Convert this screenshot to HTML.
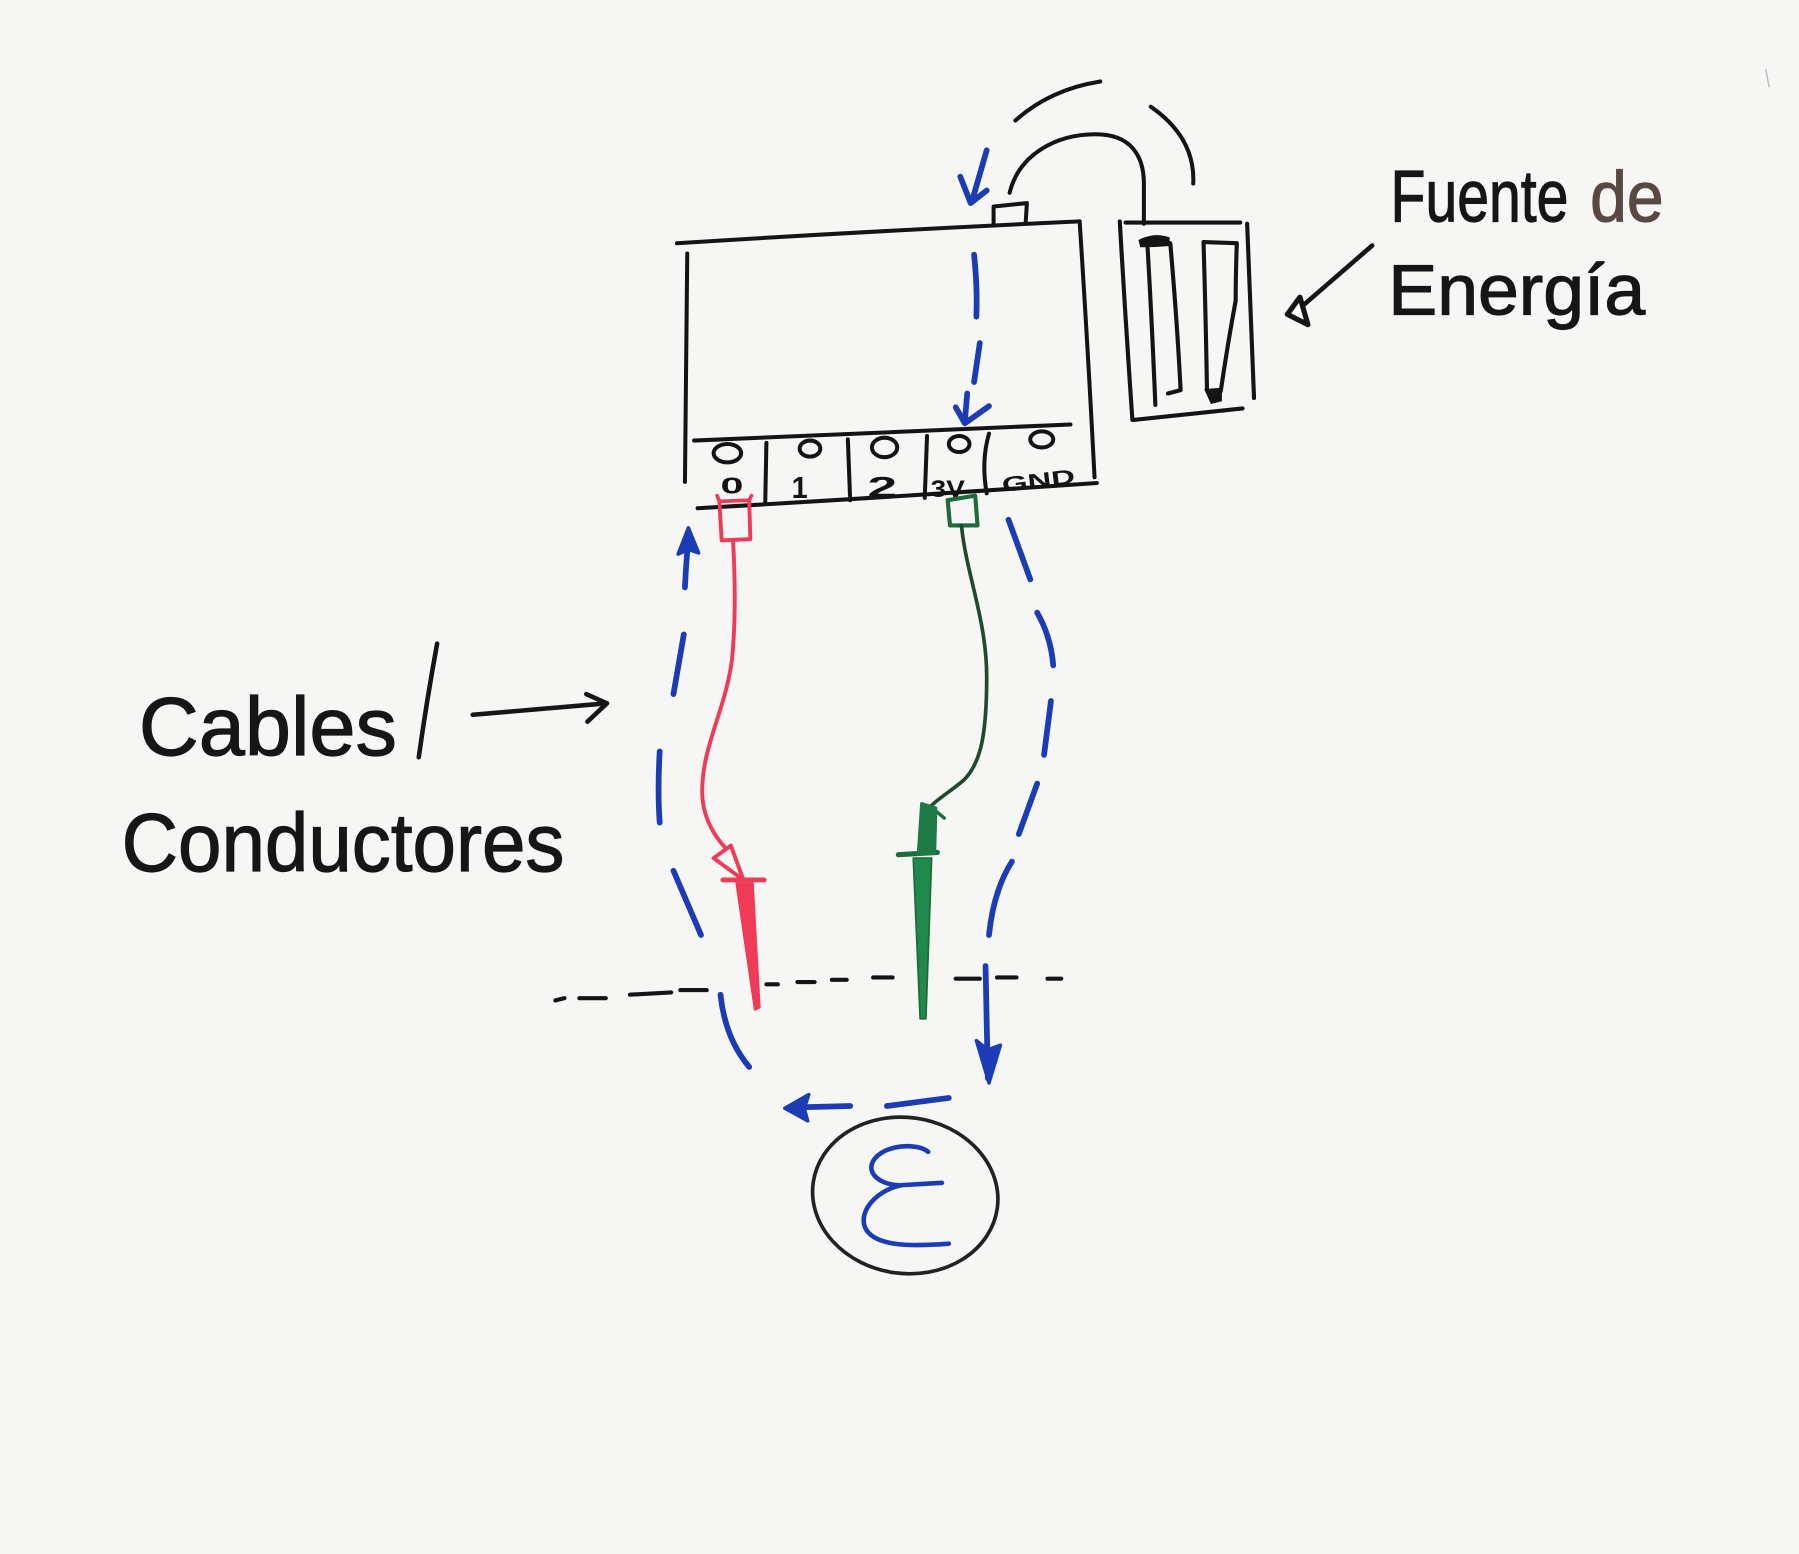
<!DOCTYPE html>
<html>
<head>
<meta charset="utf-8">
<style>
  html, body { margin: 0; padding: 0; background: #f6f6f4; }
  svg { display: block; }
</style>
</head>
<body>
<svg xmlns="http://www.w3.org/2000/svg" width="1799" height="1554" viewBox="0 0 1568 1354.5" preserveAspectRatio="none">
  <rect x="0" y="0" width="1568" height="1354.5" fill="#f6f6f4"/>

  <!-- faint mark top right -->
  <path d="M1539,60 L1542,76" stroke="#b8b8b8" stroke-width="1.2" fill="none"/>

  <!-- ===== Main box (black) ===== -->
  <g stroke="#141414" stroke-width="3.5" fill="none" stroke-linecap="round" stroke-linejoin="round">
    <path d="M590,212 Q765,201 941,193"/>
    <path d="M941,193 Q948,300 954,416"/>
    <path d="M599,221 Q598,320 597,420"/>
    <path d="M605,384 Q770,377 933,370"/>
    <path d="M608,443 Q783,433 956,421"/>
    <!-- separators -->
    <path d="M668,386 L667,437"/>
    <path d="M739,383 L741,436"/>
    <path d="M808,380 L806,434"/>
    <path d="M862,378 Q855,402 860,430"/>
    <!-- terminal circles -->
    <ellipse cx="634" cy="395" rx="12" ry="8"/>
    <ellipse cx="706" cy="391" rx="9" ry="7"/>
    <ellipse cx="771" cy="390" rx="11" ry="8.5"/>
    <ellipse cx="836" cy="387" rx="9" ry="7"/>
    <ellipse cx="908" cy="383" rx="10" ry="7"/>
    <!-- tab on top -->
    <path d="M866,194 L866,180 L895,177 L894,194"/>
    <!-- cable to battery -->
    <path d="M880,168 C 888,135 920,117 955,117 C 985,117 997,135 997,160 L997,195"/>
    <!-- motion arcs -->
    <path d="M885,105 Q915,78 959,71"/>
    <path d="M1003,93 Q1042,120 1040,160"/>
  </g>

  <!-- terminal labels -->
  <g font-family="Liberation Sans, sans-serif" font-weight="bold" fill="#141414">
    <text x="628" y="430" font-size="20" textLength="20" lengthAdjust="spacingAndGlyphs">0</text>
    <text x="690" y="434" font-size="27" textLength="14" lengthAdjust="spacingAndGlyphs">1</text>
    <text x="756" y="433" font-size="25" textLength="26" lengthAdjust="spacingAndGlyphs">2</text>
    <text x="811" y="433" font-size="21" textLength="30" lengthAdjust="spacingAndGlyphs">3V</text>
    <text x="873" y="425" font-size="18" textLength="64" lengthAdjust="spacingAndGlyphs" transform="rotate(-7 905 418)">GND</text>
  </g>

  <!-- ===== Battery ===== -->
  <g stroke="#141414" stroke-width="3.6" fill="none" stroke-linecap="round" stroke-linejoin="round">
    <path d="M976,193 Q981,280 987,366"/>
    <path d="M981,194 L1081,194"/>
    <path d="M1087,195 Q1090,270 1093,347"/>
    <path d="M988,366 Q1035,361 1083,356"/>
    <!-- cell 1 -->
    <path d="M1000,212 Q1004,280 1007,353"/>
    <path d="M1020,212 Q1026,280 1029,340 L1018,343"/>
    <!-- cell 2 -->
    <path d="M1049,211 Q1051,280 1052,340"/>
    <path d="M1049,211 L1078,212 Q1077,240 1077,262 Q1070,300 1064,341"/>
  </g>
  <path d="M994,210 Q1006,204 1018,208 L1018,213 Q1006,214 995,214 Z" fill="#141414" stroke="#141414" stroke-width="3"/>
  <path d="M1051,340 L1064,339 L1064,349 L1056,351 Z" fill="#141414" stroke="#141414" stroke-width="2"/>

  <!-- ===== Blue current path ===== -->
  <g stroke="#1c3cb5" stroke-width="5" fill="none" stroke-linecap="round" stroke-linejoin="round">
    <!-- top arrow -->
    <path d="M860,131 Q853,155 847,176"/>
    <path d="M837,154 L846,177 L860,166"/>
    <!-- dashes inside box -->
    <path d="M849,222 Q852,250 851,276"/>
    <path d="M854,299 L849,333"/>
    <path d="M843,343 L841,367"/>
    <path d="M833,355 L841,369 L862,354"/>
    <!-- left side (upward) -->
    <path d="M597,512 Q598,490 600,470"/>
    <path d="M596,553 L587,605"/>
    <path d="M575,655 Q573,690 575,717"/>
    <path d="M587,759 L611,815"/>
    <path d="M628,867 Q632,905 653,930"/>
    <!-- bottom (leftward) -->
    <path d="M741,964 L704,965"/>
    <path d="M773,964 L827,957"/>
    <!-- right side (downward) -->
    <path d="M879,453 L898,505"/>
    <path d="M904,534 Q916,555 918,580"/>
    <path d="M916,611 L910,658"/>
    <path d="M904,683 L888,727"/>
    <path d="M882,751 Q866,776 862,815"/>
    <path d="M859,842 L861,940"/>
  </g>
  <!-- arrowheads filled -->
  <path d="M600,460 L591,483 L600,479 L609,482 Z" fill="#1c3cb5" stroke="#1c3cb5" stroke-width="3" stroke-linejoin="round"/>
  <path d="M684,966 L705,954 L701,966 L704,977 Z" fill="#1c3cb5" stroke="#1c3cb5" stroke-width="3" stroke-linejoin="round"/>
  <path d="M862,944 L851,907 L861,915 L872,911 Z" fill="#1c3cb5" stroke="#1c3cb5" stroke-width="3" stroke-linejoin="round"/>

  <!-- ===== Red cable ===== -->
  <g stroke="#ef3a58" fill="none" stroke-linecap="round" stroke-linejoin="round">
    <path d="M625,432 L627,437 L653,436 L655,432" stroke-width="3.2"/>
    <path d="M627,437 L629,471 L654,470 L653,436" stroke-width="3.4"/>
    <path d="M639,472 C 641,510 641,545 638,575 C 632,620 612,650 612,690 C 612,712 622,728 633,740" stroke-width="3.4"/>
    <path d="M622,748 L637,737 L648,767 Z" stroke-width="3.4"/>
    <path d="M630,767 L666,767" stroke-width="4.2"/>
  </g>
  <path d="M642,770 L656,770 L662,878 L658,880 Z" fill="#ef3a58" stroke="#ef3a58" stroke-width="2" stroke-linejoin="round"/>

  <!-- ===== Green cable ===== -->
  <g stroke="#1d6a3a" fill="none" stroke-linecap="round" stroke-linejoin="round">
    <path d="M826,436 L850,432 L852,458 L828,458 Z" stroke-width="3.6"/>
    <path d="M838,458 C 842,500 860,540 860,590 C 860,640 855,665 840,680 C 828,690 818,696 812,702" stroke="#1f4a2c" stroke-width="3.2"/>
    <path d="M783,745 L817,743" stroke-width="4.5"/>
    <path d="M817,708 L823,713" stroke-width="3"/>
  </g>
  <path d="M803,700 L816,704 L815,744 L800,745 Z" fill="#1e7a44" stroke="#1e7a44" stroke-width="2" stroke-linejoin="round"/>
  <path d="M796,748 L812,748 L807,888 L802,888 Z" fill="#1f8a4c" stroke="#1d6a3a" stroke-width="1.5" stroke-linejoin="round"/>

  <!-- ===== Black dashed line ===== -->
  <g stroke="#141414" stroke-width="3.6" fill="none" stroke-linecap="round">
    <path d="M484,872 L492,870"/>
    <path d="M505,870 L528,870"/>
    <path d="M549,867 L585,865"/>
    <path d="M593,863 L616,863"/>
    <path d="M668,858 L678,858"/>
    <path d="M695,856 L710,856"/>
    <path d="M725,854 L738,854"/>
    <path d="M761,852 L778,852"/>
    <path d="M833,853 L854,853"/>
    <path d="M869,852 L886,852"/>
    <path d="M913,853 L925,853"/>
  </g>

  <!-- ===== Epsilon circle ===== -->
  <ellipse cx="789" cy="1042" rx="81" ry="68" transform="rotate(8 789 1042)" stroke="#222" stroke-width="3.2" fill="none"/>
  <path d="M809,1004 C 800,996 770,997 761,1012 C 754,1025 772,1034 786,1033 L821,1031 M786,1033 C 765,1037 748,1055 754,1070 C 762,1088 800,1086 827,1084" stroke="#1c3cb5" stroke-width="4" fill="none" stroke-linecap="round" stroke-linejoin="round"/>

  <!-- ===== Labels ===== -->
  <g font-family="Liberation Sans, sans-serif" fill="#161616" stroke="#161616" stroke-width="1">
    <text x="121" y="658" font-size="72" textLength="225" lengthAdjust="spacingAndGlyphs">Cables</text>
    <text x="106" y="759" font-size="72" textLength="386" lengthAdjust="spacingAndGlyphs">Conductores</text>
    <text x="1212" y="193" font-size="64" textLength="155" lengthAdjust="spacingAndGlyphs">Fuente</text>
    <text x="1210" y="274" font-size="62" textLength="224" lengthAdjust="spacingAndGlyphs">Energía</text>
  </g>
  <text x="1386" y="193" font-family="Liberation Sans, sans-serif" font-size="62" textLength="64" lengthAdjust="spacingAndGlyphs" fill="#5a4843" stroke="#5a4843" stroke-width="1">de</text>

  <!-- slash and arrows (black) -->
  <g stroke="#161616" stroke-width="4" fill="none" stroke-linecap="round" stroke-linejoin="round">
    <path d="M381,561 Q372,610 365,660"/>
    <path d="M412,623 L529,613"/>
    <path d="M511,605 L529,613 L512,629"/>
    <path d="M1196,214 L1136,266"/>
  </g>
  <path d="M1122,274 L1133,259 L1140,283 Z" fill="#ffffff" stroke="#161616" stroke-width="4.5" stroke-linejoin="round"/>
</svg>
</body>
</html>
